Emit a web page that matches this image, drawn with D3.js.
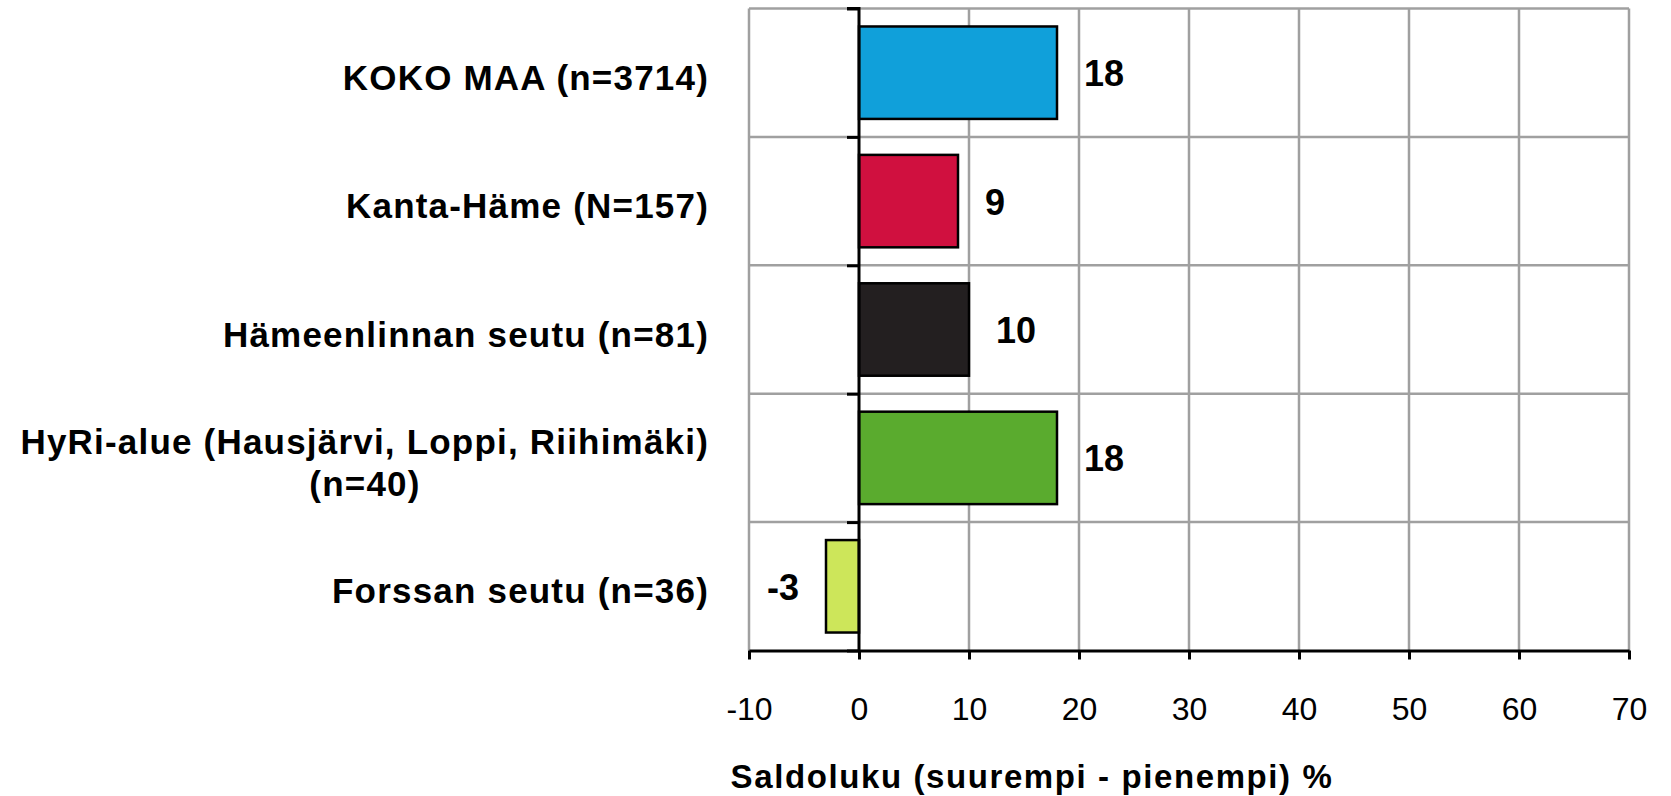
<!DOCTYPE html>
<html>
<head>
<meta charset="utf-8">
<script src="https://cdnjs.cloudflare.com/ajax/libs/d3/7.8.5/d3.min.js"></script>
<style>
  body { margin: 0; background: #fff; }
  svg { display: block; font-family: Arial, "Liberation Sans", sans-serif; }
</style>
</head>
<body>
<div id="chart"></div>
<script>
// Saldoluku by region (horizontal bar chart)

const categories = [
  'KOKO MAA (n=3714)',
  'Kanta-Häme (N=157)',
  'Hämeenlinnan seutu (n=81)',
  'HyRi-alue (Hausjärvi, Loppi, Riihimäki) (n=40)',
  'Forssan seutu (n=36)'
];
// label lines as shown on the chart
const labelLines = [
  ['KOKO MAA (n=3714)'],
  ['Kanta-Häme (N=157)'],
  ['Hämeenlinnan seutu (n=81)'],
  ['HyRi-alue (Hausjärvi, Loppi,  Riihimäki)', '(n=40)'],
  ['Forssan seutu (n=36)']
];
const values = [18, 9, 10, 18, -3];
const barColors = ['#10a0da', '#d0103f', '#231f20', '#5aab2e', '#cde65a'];
const xTicks = [-10, 0, 10, 20, 30, 40, 50, 60, 70];
const xTitle = 'Saldoluku (suurempi - pienempi) %';

(function() {
  const W = 1671, H = 796;
  const plot = { left: 749, right: 1629, top: 8.5, bottom: 650.5 };

  const svg = d3.select('#chart')
    .append('svg')
    .attr('width', W)
    .attr('height', H);

  const x = d3.scaleLinear()
    .domain([-10, 70])
    .range([plot.left, plot.right]);

  const y = d3.scaleBand()
    .domain(categories)
    .range([plot.top, plot.bottom])
    .paddingInner(0.28)
    .paddingOuter(0.14);

  // row boundaries
  const rows = d3.scaleLinear()
    .domain([0, categories.length])
    .range([plot.top, plot.bottom]);
  const rowEdges = d3.range(categories.length + 1);

  const grid = svg.append('g')
    .attr('stroke', '#a0a0a0')
    .attr('stroke-width', 2.5);

  grid.selectAll('.hgrid')
    .data(rowEdges.slice(0, -1))
    .enter()
    .append('line')
    .attr('x1', x(-10))
    .attr('x2', x(70))
    .attr('y1', d => rows(d))
    .attr('y2', d => rows(d));

  grid.selectAll('.vgrid')
    .data(xTicks.filter(d => d !== 0))
    .enter()
    .append('line')
    .attr('x1', d => x(d))
    .attr('x2', d => x(d))
    .attr('y1', plot.top)
    .attr('y2', plot.bottom);

  // bars
  svg.selectAll('.bar')
    .data(values)
    .enter()
    .append('rect')
    .attr('class', 'bar')
    .attr('x', d => x(Math.min(0, d)))
    .attr('y', (d, i) => y(categories[i]))
    .attr('width', d => Math.abs(x(d) - x(0)))
    .attr('height', y.bandwidth())
    .attr('fill', (d, i) => barColors[i])
    .attr('stroke', '#000')
    .attr('stroke-width', 2.5);

  // value labels
  svg.selectAll('.val')
    .data(values)
    .enter()
    .append('text')
    .attr('x', d => d >= 0 ? x(d) + 27 : x(d) - 27)
    .attr('y', (d, i) => y(categories[i]) + y.bandwidth() / 2 + 1)
    .attr('text-anchor', d => d >= 0 ? 'start' : 'end')
    .attr('dominant-baseline', 'central')
    .style('font-size', '36px')
    .style('font-weight', 'bold')
    .text(d => String(d));

  // y axis at zero
  const yAxis = d3.axisLeft(rows)
    .tickValues(rowEdges)
    .tickSize(12)
    .tickFormat('');
  svg.append('g')
    .attr('transform', `translate(${x(0)},0)`)
    .call(yAxis)
    .call(g => g.selectAll('line, path').attr('stroke', '#000').attr('stroke-width', 3))
    .call(g => g.select('.domain').attr('d', `M-12,${plot.top}H0V${plot.bottom}`));

  // x axis
  const xAxis = d3.axisBottom(x)
    .tickValues(xTicks)
    .tickSize(9)
    .tickSizeOuter(0)
    .tickPadding(38)
    .tickFormat(d => String(d));
  svg.append('g')
    .attr('transform', `translate(0,${plot.bottom})`)
    .call(xAxis)
    .call(g => g.selectAll('line, path').attr('stroke', '#000').attr('stroke-width', 3))
    .call(g => g.selectAll('text')
      .attr('fill', '#000')
      .style('font-size', '32px')
      .style('font-family', 'Arial, "Liberation Sans", sans-serif'));

  // category labels
  const labels = svg.selectAll('.cat')
    .data(labelLines)
    .enter()
    .append('text')
    .attr('class', 'cat')
    .attr('y', (d, i) => y(categories[i]) + y.bandwidth() / 2 + 4)
    .attr('dominant-baseline', 'central')
    .style('font-size', '35px')
    .style('font-weight', 'bold')
    .style('letter-spacing', '1.2px');

  labels.each(function(lines) {
    const t = d3.select(this);
    const n = lines.length;
    lines.forEach((line, j) => {
      const last = n > 1 && j === n - 1;
      t.append('tspan')
        .attr('x', last ? 365 : 709)
        .attr('text-anchor', last ? 'middle' : 'end')
        .attr('dy', j === 0 ? `${-(n - 1) * 0.61}em` : '1.22em')
        .text(line);
    });
  });

  // axis title
  svg.append('text')
    .attr('x', 1032)
    .attr('y', 776)
    .attr('text-anchor', 'middle')
    .attr('dominant-baseline', 'central')
    .style('font-size', '33px')
    .style('font-weight', 'bold')
    .style('letter-spacing', '1.6px')
    .text(xTitle);
})();
</script>
</body>
</html>
